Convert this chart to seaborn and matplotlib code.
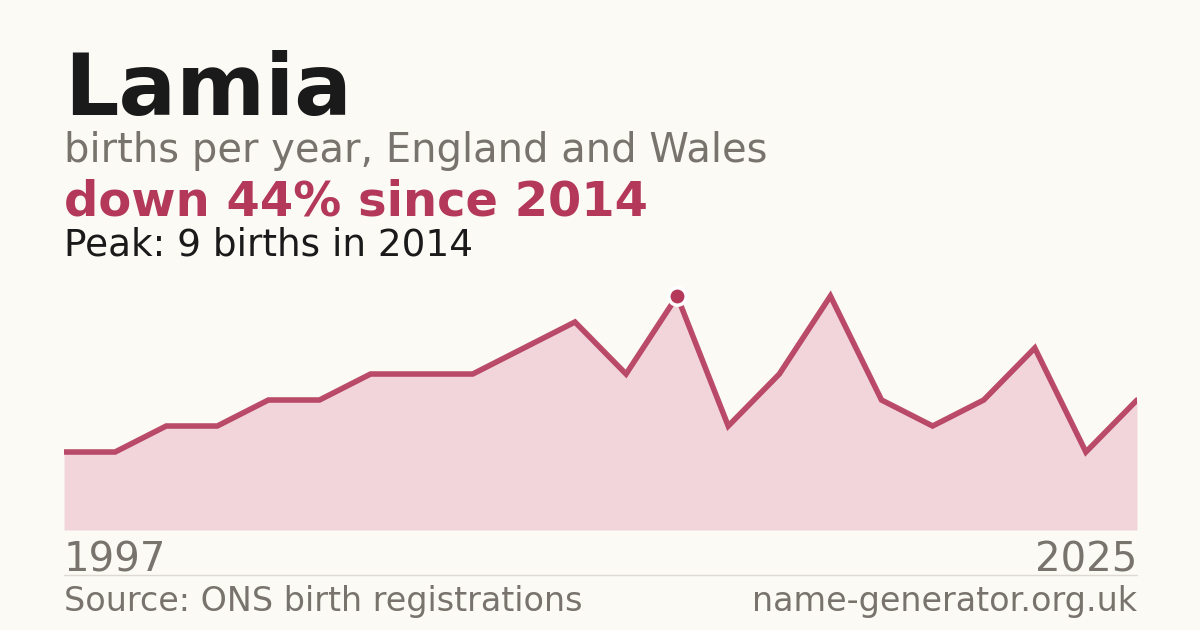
import numpy as np
import pandas as pd
import matplotlib
matplotlib.use('Agg')
import matplotlib.pyplot as plt
import seaborn as sns

# births per year for the name, ONS registrations (years with data only)
years = [1997, 1998, 2000, 2001, 2003, 2004, 2006, 2007, 2008, 2010, 2012,
         2013, 2014, 2015, 2016, 2017, 2018, 2019, 2020, 2021, 2023, 2025]
births = [3, 3, 4, 4, 5, 5, 6, 6, 6, 7, 8,
          6, 9, 4, 6, 9, 5, 4, 5, 7, 3, 5]

name = 'Lamia'
subtitle = 'births per year, England and Wales'
change_text = 'down 44% since 2014'
peak_text = 'Peak: 9 births in 2014'
source_text = 'Source: ONS birth registrations'
site_text = 'name-generator.org.uk'

bg = '#fbfaf5'
red = '#b3385a'
grey = '#78736c'
dark = '#1a1a1a'

df = pd.DataFrame({'year': years, 'births': births})
df['pos'] = np.arange(len(df))

sns.set_theme(style='white')
plt.rcParams['font.family'] = ['DejaVu Sans']

W, H = 1200, 630
fig = plt.figure(figsize=(12, 6.3), dpi=100, facecolor=bg)

def fy(px):
    return 1 - px / H

ax = fig.add_axes([64 / W, fy(530), (1137 - 64) / W, (530 - 270) / H])
ax.set_facecolor(bg)
ax.fill_between(df['pos'], df['births'], 0, color='#f1d5db', lw=0)
sns.lineplot(data=df, x='pos', y='births', ax=ax, color=red, lw=4,
             alpha=0.9, solid_joinstyle='miter')
peak = df.loc[df['births'].idxmax()]
ax.plot([peak['pos']], [peak['births']], 'o', ms=12.5, color=red,
        mec='white', mew=2.5, clip_on=False, zorder=5)
ax.set_xlim(df['pos'].min(), df['pos'].max())
ax.set_ylim(0, 10)
ax.axis('off')

fig.text(64 / W, fy(115), name, fontsize=61.5, fontweight='bold', color=dark, va='baseline')
fig.text(64 / W, fy(162), subtitle, fontsize=28.8, color=grey, va='baseline')
fig.text(64 / W, fy(216), change_text, fontsize=34.6, fontweight='bold', color=red, va='baseline')
fig.text(64 / W, fy(255), peak_text, fontsize=26.9, color=dark, va='baseline')

fig.text(64 / W, fy(571), str(years[0]), fontsize=29, color=grey, va='baseline')
fig.text(1137 / W, fy(571), str(years[-1]), fontsize=29, color=grey, va='baseline', ha='right')
fig.add_artist(plt.Line2D([64 / W, 1137 / W], [fy(574.5), fy(574.5)], color='#dedad3', lw=1))
fig.text(64 / W, fy(611), source_text, fontsize=24, color=grey, va='baseline')
fig.text(1137 / W, fy(611), site_text, fontsize=24, color=grey, va='baseline', ha='right')

fig.savefig('out.png', dpi=100, facecolor=bg)
